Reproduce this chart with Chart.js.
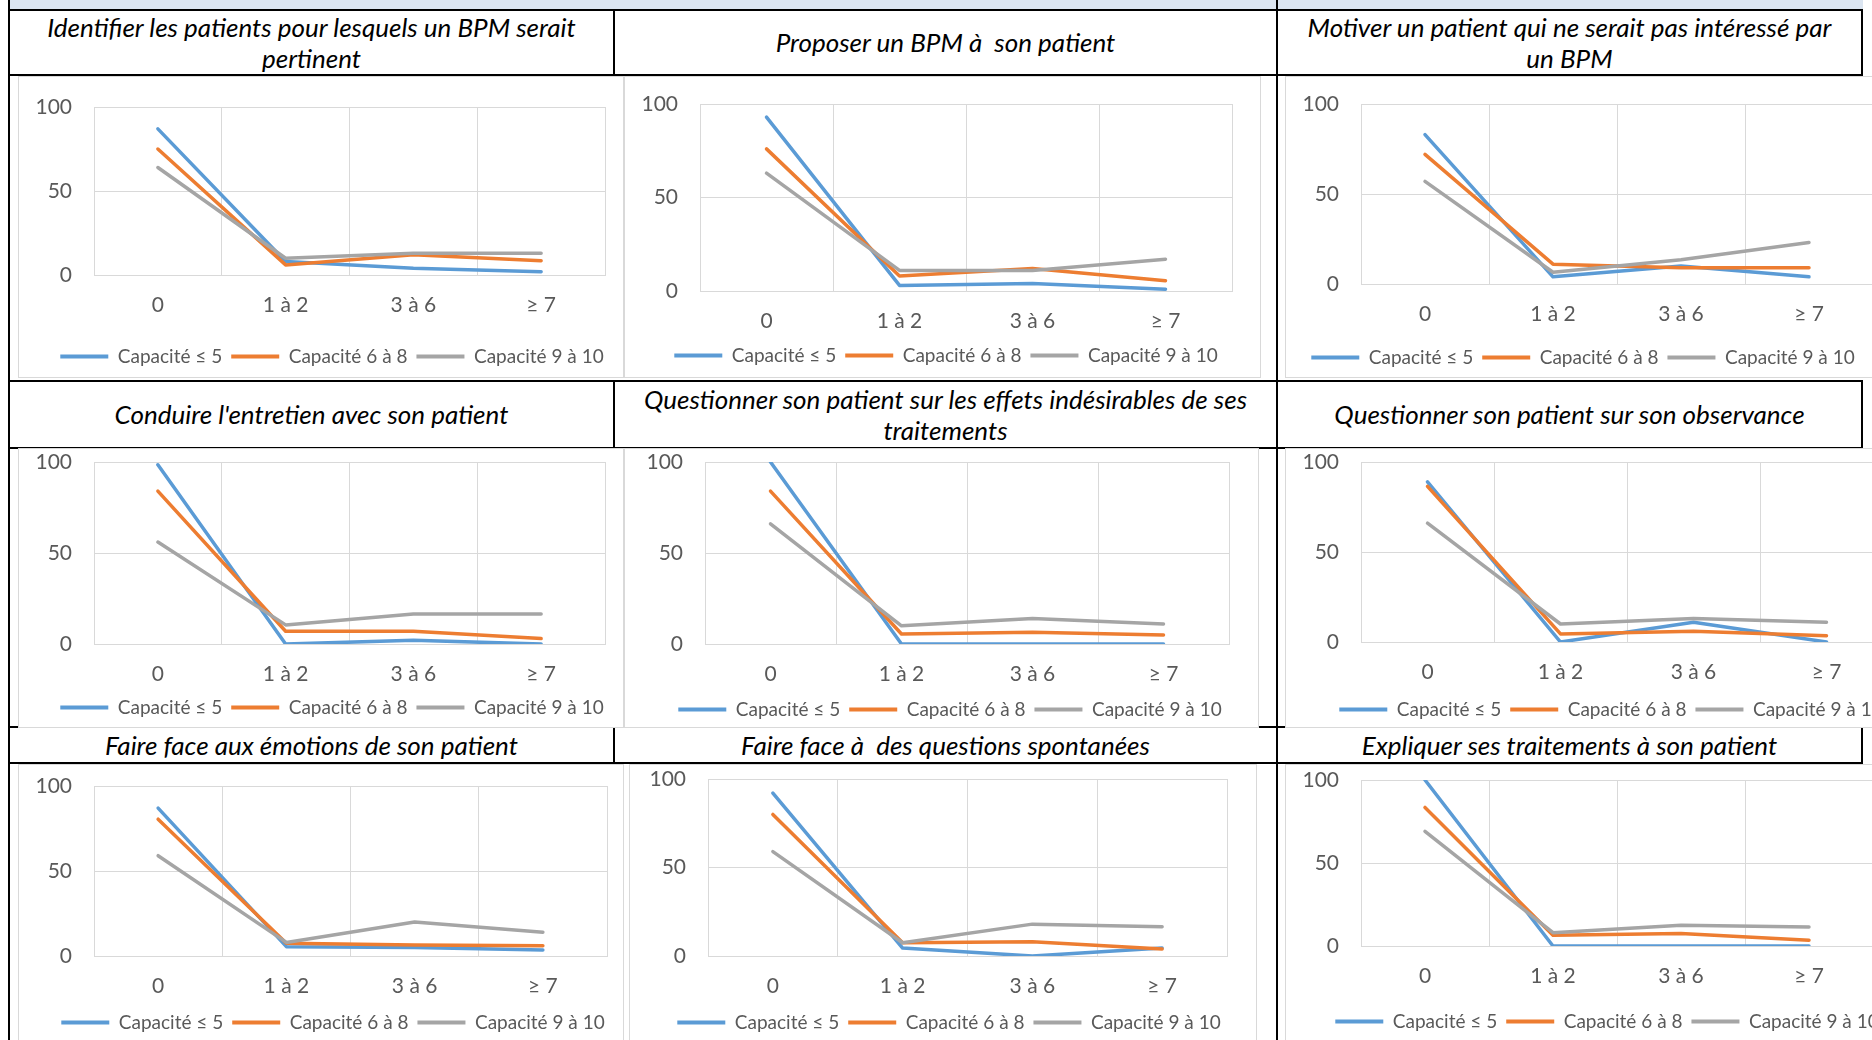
<!DOCTYPE html>
<html>
<head>
<meta charset="utf-8">
<script src="https://cdn.jsdelivr.net/npm/chart.js@4.4.0/dist/chart.umd.min.js"></script>
<style>
  body { margin: 0; width: 1872px; height: 1040px; overflow: hidden; background: #fff; position: relative; font-family: Lato, "Open Sans", sans-serif; }
  .bande { position: absolute; left: 8px; top: 0; width: 1855px; height: 10px; background: #dbe5f1; }
  .cellule { position: absolute; box-sizing: border-box; border: 2px solid #000; display: flex; align-items: center; justify-content: center;
             text-align: center; white-space: pre; font-style: italic; font-size: 26px; line-height: 31px; color: #000; background: #fff; }
  .trait { position: absolute; top: 0; width: 2px; height: 1040px; background: #000; }
  .boite { position: absolute; box-sizing: border-box; border: 1px solid #d9d9d9; background: #fff; }
  .boite canvas { position: absolute; left: 0; top: 0; }
</style>
</head>
<body>
<div class="bande"></div>
<div class="trait" style="left:8px"></div>
<div class="trait" style="left:1276px"></div>
<div id="grille"></div>
<script>
const categories = ['0', '1 à 2', '3 à 6', '≥ 7'];
const seriesNames = ['Capacité ≤ 5', 'Capacité 6 à 8', 'Capacité 9 à 10'];
const seriesColors = ['#5b9bd5', '#ed7d31', '#a5a5a5'];
const yTicks = [0, 50, 100];

const titles = [
    'Identifier les patients pour lesquels un BPM serait\npertinent',
    'Proposer un BPM à  son patient',
    'Motiver un patient qui ne serait pas intéressé par\nun BPM',
    "Conduire l'entretien avec son patient",
    'Questionner son patient sur les effets indésirables de ses\ntraitements',
    'Questionner son patient sur son observance',
    'Faire face aux émotions de son patient',
    'Faire face à  des questions spontanées',
    'Expliquer ses traitements à son patient'
];

// one row per series: ≤ 5, 6 à 8, 9 à 10
const identifier = [[87, 8, 4, 2], [75, 6, 12, 8.5], [64, 10, 13, 13]];
const proposer = [[93, 3, 4, 1], [76, 8, 12, 5.5], [63, 11, 11, 17]];
const motiver = [[83, 4, 10, 4], [72, 11, 9, 9], [57, 6.5, 13.5, 23]];
const conduire = [[98.5, 0, 2, 0], [84, 7, 7, 3], [56, 10.5, 16.5, 16.5]];
const effets = [[100, 0, 0, 0], [84, 5.5, 6.5, 5], [66, 10, 14, 11]];
const observance = [[89, 0, 11, 0], [86.5, 4.5, 6, 3.5], [66, 10, 13, 11]];
const emotions = [[87, 5.5, 5, 3.5], [80.5, 7.5, 6.5, 6], [59, 8, 20, 14]];
const questions = [[92, 4.5, 0, 4.5], [80, 7.5, 8, 4], [59, 7.5, 18, 16.5]];
const expliquer = [[100, 0, 0, 0], [83.5, 6.5, 7.5, 3.5], [69, 8, 12.5, 11.5]];

const panelValues = [identifier, proposer, motiver, conduire, effets, observance, emotions, questions, expliquer];

// title cells: x, y, w, h
const titleCells = [
    [8, 9, 607, 67], [613, 9, 665, 67], [1276, 9, 587, 67],
    [8, 380, 607, 69], [613, 380, 665, 69], [1276, 380, 587, 69],
    [8, 726, 607, 38], [613, 726, 665, 38], [1276, 726, 587, 38]
];
// chart boxes: x, y, w, h
const panelBoxes = [
    [18, 76, 606, 302], [624, 76, 637, 302], [1285, 76, 600, 302],
    [18, 448, 606, 280], [624, 448, 635, 280], [1285, 448, 640, 280],
    [18, 764, 606, 278], [629, 764, 628, 278], [1285, 764, 600, 278]
];
// plot areas: left, top, right, bottom
const panelPlots = [
    [94, 107, 605, 275], [700, 104, 1232, 291], [1361, 104, 1873, 284],
    [94, 462, 605, 644], [705, 462, 1229, 644], [1361, 462, 1893, 642],
    [94, 786, 607, 956], [708, 779, 1227, 956], [1361, 780, 1873, 946]
];
// legend centre: x, y
const panelLegends = [
    [332, 357], [946, 356], [1583, 358],
    [332, 708], [950, 710], [1611, 710],
    [333, 1023], [949, 1023], [1607, 1022]
];

const police = 'Lato, "Open Sans", sans-serif';
const grille = document.getElementById('grille');

// fixes the legend band height and puts the legend row where it stands in the picture
const placeLegende = {
    id: 'placeLegende',
    beforeLayout(chart, args, opts) {
        const leg = chart.legend;
        if (!leg || leg._fixe) return;
        const fit = leg.fit;
        leg.fit = function () { this.maxWidth = 3000; fit.call(this); this.height = opts.h; };
        leg._fixe = true;
    },
    afterLayout(chart, args, opts) {
        const leg = chart.legend;
        const half = (leg.right - leg.left) / 2;
        leg.left = opts.cx - half;
        leg.right = opts.cx + half;
    }
};

// scales keep the size given, without the extra room for their labels
function tailleFixe(s, w, h) {
    if (w !== undefined) s.width = w;
    if (h !== undefined) s.height = h;
    s.paddingTop = 0;
    s.paddingBottom = 0;
    s.paddingLeft = 0;
    s.paddingRight = 0;
}

titleCells.forEach(([x, y, w, h], i) => {
    const d = document.createElement('div');
    d.className = 'cellule';
    d.style.cssText = `left:${x}px;top:${y}px;width:${w}px;height:${h}px`;
    d.textContent = titles[i];
    grille.appendChild(d);
});

function creerGraphique(i) {
    const [bx, by, bw, bh] = panelBoxes[i];
    const [L, T, R, B] = panelPlots[i];
    const [lx, ly] = panelLegends[i];
    const ox = bx + 1, oy = by + 1, W = bw - 2, H = bh - 2;

    const boite = document.createElement('div');
    boite.className = 'boite';
    boite.style.cssText = `left:${bx}px;top:${by}px;width:${bw}px;height:${bh}px`;
    const canvas = document.createElement('canvas');
    canvas.width = W;
    canvas.height = H;
    boite.appendChild(canvas);
    grille.appendChild(boite);

    const pR = W - (R - ox);
    const pT = T - oy;
    const legH = H + 19 - (ly - oy);
    const xH = H - pT - legH - (B - T);
    const yW = L - ox;

    new Chart(canvas.getContext('2d'), {
        type: 'line',
        data: {
            labels: categories,
            datasets: seriesNames.map((name, s) => ({
                label: name,
                data: panelValues[i][s],
                borderColor: seriesColors[s],
                backgroundColor: seriesColors[s],
                order: 3 - s
            }))
        },
        options: {
            responsive: false,
            devicePixelRatio: 1,
            animation: false,
            layout: { padding: { left: 0, right: pR, top: pT, bottom: 0 } },
            elements: {
                point: { radius: 0 },
                line: { borderWidth: 3.5, tension: 0, borderCapStyle: 'round', borderJoinStyle: 'round' }
            },
            scales: {
                x: {
                    offset: true,
                    grid: { offset: true, color: '#d9d9d9', drawTicks: false },
                    border: { color: '#d9d9d9' },
                    ticks: { font: { family: police, size: 21 }, color: '#595959', padding: 18, maxRotation: 0, autoSkip: false },
                    afterFit: (s) => tailleFixe(s, undefined, xH)
                },
                y: {
                    min: 0,
                    max: 100,
                    grid: { color: '#d9d9d9', drawTicks: false },
                    border: { color: '#d9d9d9' },
                    ticks: { font: { family: police, size: 21 }, color: '#595959', padding: 22 },
                    afterBuildTicks: (s) => { s.ticks = yTicks.map(v => ({ value: v })); },
                    afterFit: (s) => tailleFixe(s, yW, undefined)
                }
            },
            plugins: {
                tooltip: { enabled: false },
                placeLegende: { h: legH, cx: lx - ox },
                legend: {
                    position: 'bottom',
                    labels: {
                        font: { family: police, size: 19 },
                        color: '#595959',
                        boxWidth: 48,
                        boxHeight: 4,
                        padding: 9,
                        sort: (a, b) => a.datasetIndex - b.datasetIndex,
                        generateLabels: (chart) => Chart.defaults.plugins.legend.labels.generateLabels(chart)
                            .map(it => Object.assign(it, { lineWidth: 0, fillStyle: it.strokeStyle }))
                    }
                }
            }
        },
        plugins: [placeLegende]
    });
}

for (let i = 0; i < panelValues.length; i++) {
    creerGraphique(i);
}
</script>
</body>
</html>
